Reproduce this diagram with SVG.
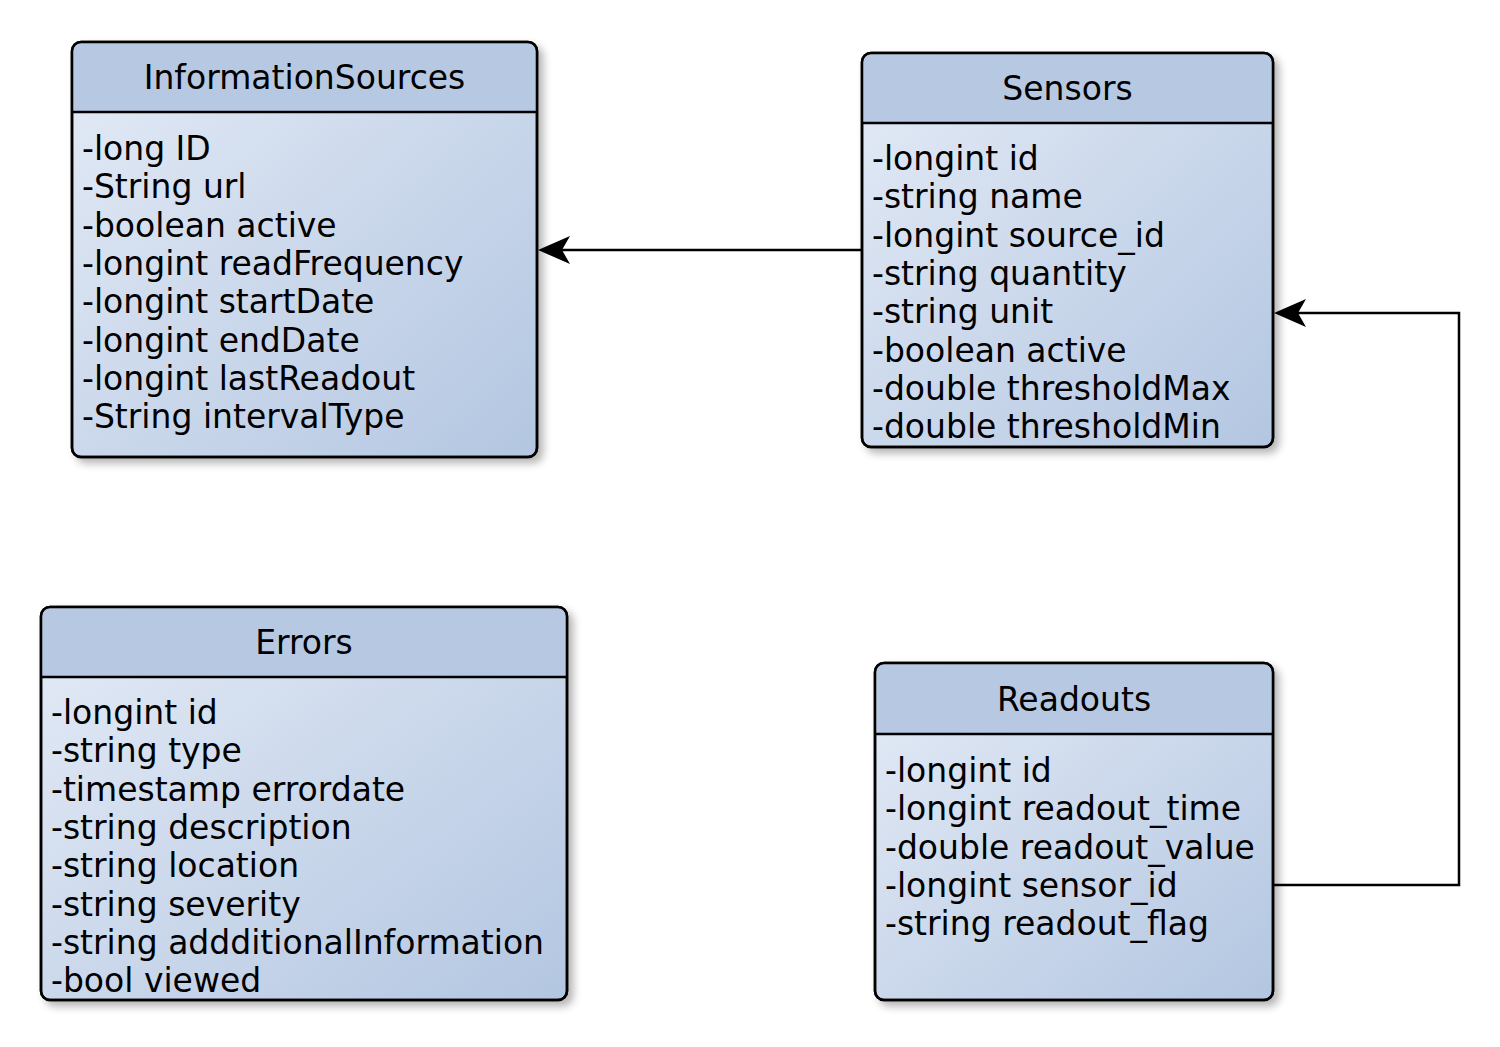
<svg xmlns="http://www.w3.org/2000/svg" width="1500" height="1047" viewBox="0 0 1500 1047">
<style>
.box{stroke:#000;stroke-width:2.5;}
.hdr{fill:#b7c9e2;}
.sep{stroke:#000;stroke-width:2.5;fill:none;}
.t{font-family:"DejaVu Sans",sans-serif;font-size:33px;fill:#000;}
.c{text-anchor:middle;}
.edge{fill:none;stroke:#000;stroke-width:2.5;}
</style>
<defs>
<linearGradient id="g" x1="0" y1="0" x2="1" y2="1">
<stop offset="0" stop-color="#e4ebf6"/>
<stop offset="1" stop-color="#b3c6e1"/>
</linearGradient>
<filter id="sh" x="-10%" y="-10%" width="130%" height="130%">
<feGaussianBlur in="SourceAlpha" stdDeviation="4"/>
<feOffset dx="5" dy="5" result="b"/>
<feComponentTransfer><feFuncA type="linear" slope="0.3"/></feComponentTransfer>
<feMerge><feMergeNode/><feMergeNode in="SourceGraphic"/></feMerge>
</filter>
</defs>

<g id="InformationSources">
<rect class="box" x="72" y="42" width="465" height="415" rx="9" fill="url(#g)" filter="url(#sh)"/>
<path class="hdr" d="M81,43.25 H528 A7.75,7.75 0 0 1 535.75,51 V112 H73.25 V51 A7.75,7.75 0 0 1 81,43.25 Z"/>
<rect class="box" x="72" y="42" width="465" height="415" rx="9" fill="none"/>
<line class="sep" x1="72" y1="112" x2="537" y2="112"/>
<text class="t c" x="304.5" y="89">InformationSources</text>
<text class="t" x="82" y="160">-long ID</text>
<text class="t" x="82" y="198.3">-String url</text>
<text class="t" x="82" y="236.6">-boolean active</text>
<text class="t" x="82" y="274.9">-longint readFrequency</text>
<text class="t" x="82" y="313.2">-longint startDate</text>
<text class="t" x="82" y="351.5">-longint endDate</text>
<text class="t" x="82" y="389.8">-longint lastReadout</text>
<text class="t" x="82" y="428.1">-String intervalType</text>
</g>

<g id="Sensors">
<rect class="box" x="862" y="53" width="411" height="394" rx="9" fill="url(#g)" filter="url(#sh)"/>
<path class="hdr" d="M871,54.25 H1264 A7.75,7.75 0 0 1 1271.75,62 V123 H863.25 V62 A7.75,7.75 0 0 1 871,54.25 Z"/>
<rect class="box" x="862" y="53" width="411" height="394" rx="9" fill="none"/>
<line class="sep" x1="862" y1="123" x2="1273" y2="123"/>
<text class="t c" x="1067.5" y="100">Sensors</text>
<text class="t" x="872" y="170">-longint id</text>
<text class="t" x="872" y="208.3">-string name</text>
<text class="t" x="872" y="246.6">-longint source_id</text>
<text class="t" x="872" y="284.9">-string quantity</text>
<text class="t" x="872" y="323.2">-string unit</text>
<text class="t" x="872" y="361.5">-boolean active</text>
<text class="t" x="872" y="399.8">-double thresholdMax</text>
<text class="t" x="872" y="438.1">-double thresholdMin</text>
</g>

<g id="Errors">
<rect class="box" x="41" y="607" width="526" height="393" rx="9" fill="url(#g)" filter="url(#sh)"/>
<path class="hdr" d="M50,608.25 H558 A7.75,7.75 0 0 1 565.75,616 V677 H42.25 V616 A7.75,7.75 0 0 1 50,608.25 Z"/>
<rect class="box" x="41" y="607" width="526" height="393" rx="9" fill="none"/>
<line class="sep" x1="41" y1="677" x2="567" y2="677"/>
<text class="t c" x="304" y="654">Errors</text>
<text class="t" x="51" y="724">-longint id</text>
<text class="t" x="51" y="762.3">-string type</text>
<text class="t" x="51" y="800.6">-timestamp errordate</text>
<text class="t" x="51" y="838.9">-string description</text>
<text class="t" x="51" y="877.2">-string location</text>
<text class="t" x="51" y="915.5">-string severity</text>
<text class="t" x="51" y="953.8">-string addditionalInformation</text>
<text class="t" x="51" y="992.1">-bool viewed</text>
</g>

<g id="Readouts">
<rect class="box" x="875" y="663" width="398" height="337" rx="9" fill="url(#g)" filter="url(#sh)"/>
<path class="hdr" d="M884,664.25 H1264 A7.75,7.75 0 0 1 1271.75,672 V734 H876.25 V672 A7.75,7.75 0 0 1 884,664.25 Z"/>
<rect class="box" x="875" y="663" width="398" height="337" rx="9" fill="none"/>
<line class="sep" x1="875" y1="734" x2="1273" y2="734"/>
<text class="t c" x="1074" y="711">Readouts</text>
<text class="t" x="885" y="782">-longint id</text>
<text class="t" x="885" y="820.3">-longint readout_time</text>
<text class="t" x="885" y="858.6">-double readout_value</text>
<text class="t" x="885" y="896.9">-longint sensor_id</text>
<text class="t" x="885" y="935.2">-string readout_flag</text>
</g>

<g id="connectors">
<path class="edge" d="M862,250 H562" />
<path d="M538,250 L570,236 L562,250 L570,264 Z" fill="#000"/>
<path class="edge" d="M1273,885 H1459 V313 H1297" />
<path d="M1274,313 L1306,299 L1298,313 L1306,327 Z" fill="#000"/>
</g>
</svg>
